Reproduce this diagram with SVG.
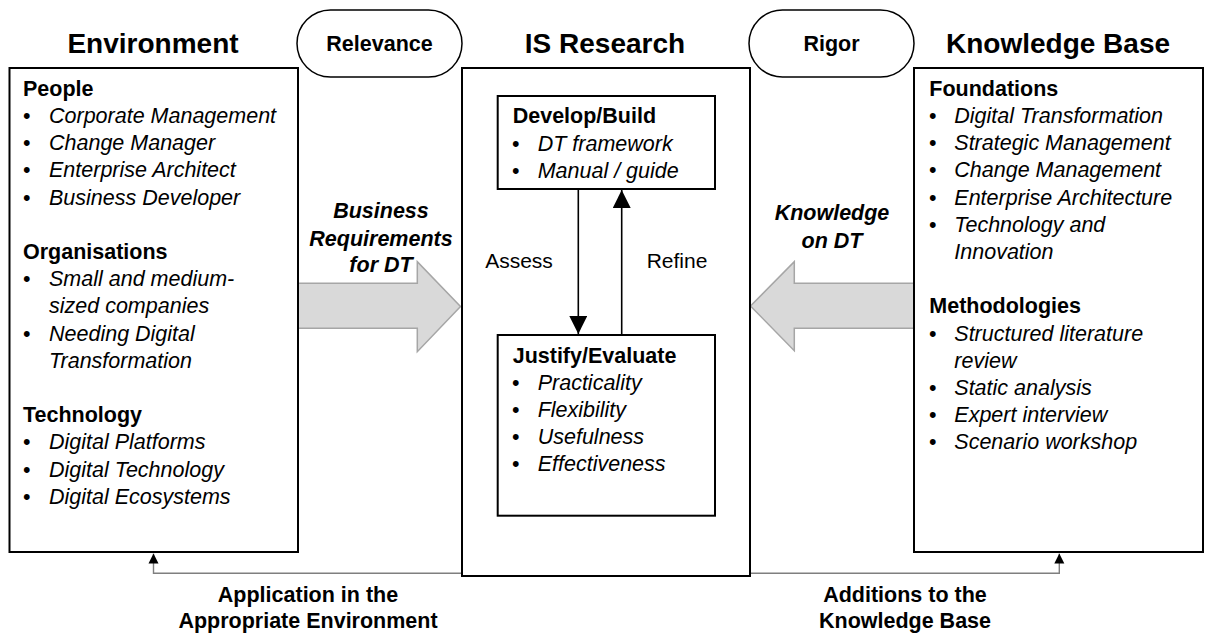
<svg xmlns="http://www.w3.org/2000/svg" width="1212" height="642" viewBox="0 0 1212 642">
<style>
  text { font-family: "Liberation Sans", Arial, sans-serif; fill: #000; }
  .title { font-size: 28px; font-weight: bold; text-anchor: middle; }
  .head { font-size: 21.5px; font-weight: bold; }
  .item { font-size: 21.5px; font-style: italic; }
  .bul { font-size: 21.5px; }
  .pilltxt { font-size: 21.5px; font-weight: bold; text-anchor: middle; }
  .lbl { font-size: 21.5px; font-weight: bold; text-anchor: middle; }
  .lbli { font-size: 21.5px; font-weight: bold; font-style: italic; text-anchor: middle; }
  .plain { font-size: 21px; text-anchor: middle; }
  .box { fill: #fff; stroke: #000; stroke-width: 2; }
  .pill { fill: #fff; stroke: #000; stroke-width: 1.5; }
  .block { fill: #d9d9d9; stroke: #a6a6a6; stroke-width: 1.5; }
  .flow { fill: none; stroke: #000; stroke-width: 1.6; }
  .fb { fill: none; stroke: #7f7f7f; stroke-width: 1.4; }
</style>
<defs>
  <marker id="bigHead" viewBox="0 0 10 10" refX="10" refY="5" markerUnits="userSpaceOnUse" markerWidth="19" markerHeight="18" orient="auto">
    <path d="M0,0 L10,5 L0,10 z" fill="#000"/>
  </marker>
  <marker id="smallHead" viewBox="0 0 10 10" refX="10" refY="5" markerUnits="userSpaceOnUse" markerWidth="10" markerHeight="11" orient="auto">
    <path d="M0,0 L10,5 L0,10 z" fill="#000"/>
  </marker>
</defs>

<g id="connectors">
  <polygon class="block" points="298,283.3 417.3,283.3 417.3,261.7 460.5,306.5 417.3,351.7 417.3,328.3 298,328.3"/>
  <polygon class="block" points="914,283.3 794.3,283.3 794.3,261.7 750.5,306 794.3,350.7 794.3,328.3 914,328.3"/>
  <path class="fb" d="M462,573.3 H153.5 V553.5" marker-end="url(#smallHead)"/>
  <path class="fb" d="M750,573.3 H1059.3 V553.5" marker-end="url(#smallHead)"/>
  <text class="lbli" x="381" y="218.3">Business</text>
  <text class="lbli" x="381" y="245.7">Requirements</text>
  <text class="lbli" x="381" y="271.7">for DT</text>
  <text class="lbli" x="832" y="220">Knowledge</text>
  <text class="lbli" x="832" y="248.3">on DT</text>
  <text class="lbl" x="308" y="601.7">Application in the</text>
  <text class="lbl" x="308" y="628.3">Appropriate Environment</text>
  <text class="lbl" x="905" y="601.7">Additions to the</text>
  <text class="lbl" x="905" y="628.3">Knowledge Base</text>
</g>

<g id="environment">
  <text class="title" x="153" y="53">Environment</text>
  <rect class="box" x="9.5" y="68" width="288.5" height="484"/>
  <text class="head" x="23" y="95.7">People</text>
  <text class="bul" x="23" y="122.9">•</text><text class="item" x="49" y="122.9">Corporate Management</text>
  <text class="bul" x="23" y="150.1">•</text><text class="item" x="49" y="150.1">Change Manager</text>
  <text class="bul" x="23" y="177.3">•</text><text class="item" x="49" y="177.3">Enterprise Architect</text>
  <text class="bul" x="23" y="204.5">•</text><text class="item" x="49" y="204.5">Business Developer</text>
  <text class="head" x="23" y="258.9">Organisations</text>
  <text class="bul" x="23" y="286.1">•</text><text class="item" x="49" y="286.1">Small and medium-</text>
  <text class="item" x="49" y="313.3">sized companies</text>
  <text class="bul" x="23" y="340.5">•</text><text class="item" x="49" y="340.5">Needing Digital</text>
  <text class="item" x="49" y="367.7">Transformation</text>
  <text class="head" x="23" y="422.1">Technology</text>
  <text class="bul" x="23" y="449.3">•</text><text class="item" x="49" y="449.3">Digital Platforms</text>
  <text class="bul" x="23" y="476.5">•</text><text class="item" x="49" y="476.5">Digital Technology</text>
  <text class="bul" x="23" y="503.7">•</text><text class="item" x="49" y="503.7">Digital Ecosystems</text>
</g>

<g id="relevance">
  <rect class="pill" x="297" y="10" width="165" height="67" rx="33.5" ry="33.5"/>
  <text class="pilltxt" x="379.5" y="51">Relevance</text>
</g>

<g id="rigor">
  <rect class="pill" x="749" y="10" width="165" height="67" rx="33.5" ry="33.5"/>
  <text class="pilltxt" x="831.5" y="51">Rigor</text>
</g>

<g id="is-research">
  <text class="title" x="605" y="53">IS Research</text>
  <rect class="box" x="462" y="68" width="288" height="508"/>
</g>

<g id="develop-build">
  <rect class="box" x="497.7" y="96" width="217.3" height="93"/>
  <text class="head" x="512.7" y="123.3">Develop/Build</text>
  <text class="bul" x="512" y="150.5">•</text><text class="item" x="537.7" y="150.5">DT framework</text>
  <text class="bul" x="512" y="177.7">•</text><text class="item" x="537.7" y="177.7">Manual / guide</text>
</g>

<g id="justify-evaluate">
  <rect class="box" x="497.7" y="335" width="217.3" height="180.7"/>
  <text class="head" x="512.7" y="362.7">Justify/Evaluate</text>
  <text class="bul" x="512" y="389.6">•</text><text class="item" x="537.7" y="389.6">Practicality</text>
  <text class="bul" x="512" y="416.8">•</text><text class="item" x="537.7" y="416.8">Flexibility</text>
  <text class="bul" x="512" y="444">•</text><text class="item" x="537.7" y="444">Usefulness</text>
  <text class="bul" x="512" y="471.2">•</text><text class="item" x="537.7" y="471.2">Effectiveness</text>
</g>

<g id="cycle-connectors">
  <path class="flow" d="M578.3,190 V334" marker-end="url(#bigHead)"/>
  <path class="flow" d="M621.7,334 V190" marker-end="url(#bigHead)"/>
  <text class="plain" x="519" y="268">Assess</text>
  <text class="plain" x="677" y="268">Refine</text>
</g>

<g id="knowledge-base">
  <text class="title" x="1058" y="53">Knowledge Base</text>
  <rect class="box" x="914" y="68" width="289" height="484"/>
  <text class="head" x="929.3" y="95.7">Foundations</text>
  <text class="bul" x="929" y="122.9">•</text><text class="item" x="954.3" y="122.9">Digital Transformation</text>
  <text class="bul" x="929" y="150.1">•</text><text class="item" x="954.3" y="150.1">Strategic Management</text>
  <text class="bul" x="929" y="177.3">•</text><text class="item" x="954.3" y="177.3">Change Management</text>
  <text class="bul" x="929" y="204.5">•</text><text class="item" x="954.3" y="204.5">Enterprise Architecture</text>
  <text class="bul" x="929" y="231.7">•</text><text class="item" x="954.3" y="231.7">Technology and</text>
  <text class="item" x="954.3" y="258.9">Innovation</text>
  <text class="head" x="929.3" y="313.3">Methodologies</text>
  <text class="bul" x="929" y="340.5">•</text><text class="item" x="954.3" y="340.5">Structured literature</text>
  <text class="item" x="954.3" y="367.7">review</text>
  <text class="bul" x="929" y="394.9">•</text><text class="item" x="954.3" y="394.9">Static analysis</text>
  <text class="bul" x="929" y="422.1">•</text><text class="item" x="954.3" y="422.1">Expert interview</text>
  <text class="bul" x="929" y="449.3">•</text><text class="item" x="954.3" y="449.3">Scenario workshop</text>
</g>
</svg>
